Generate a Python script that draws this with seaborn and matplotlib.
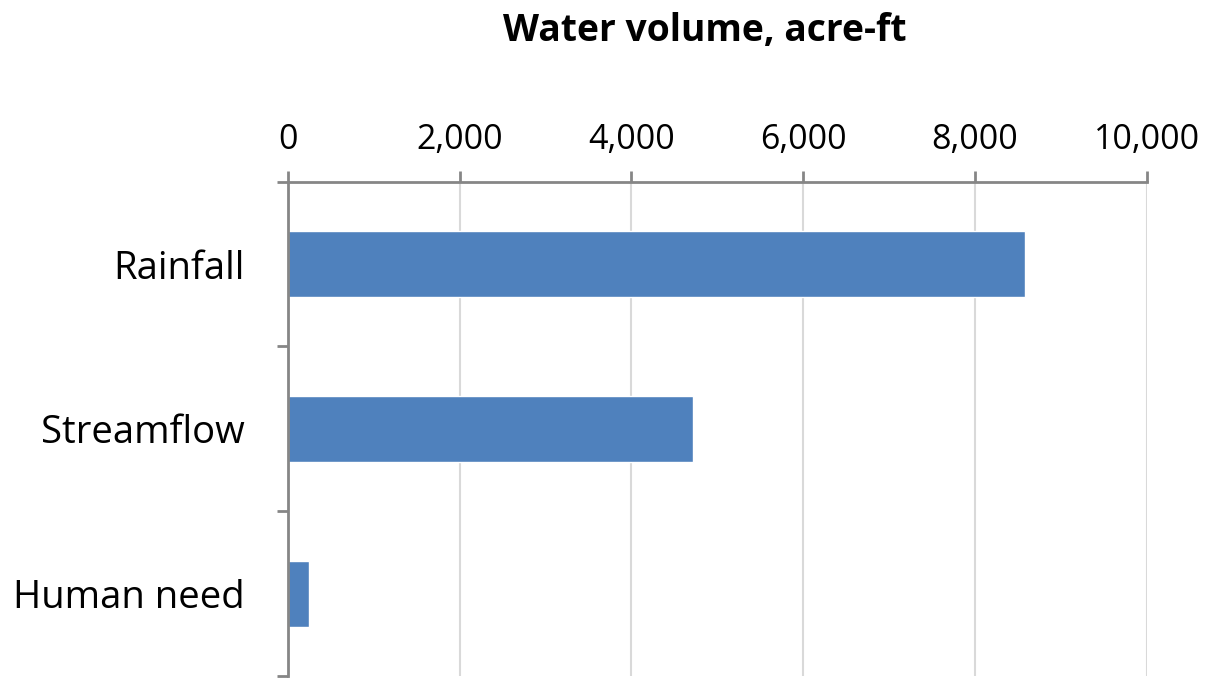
import matplotlib
matplotlib.use("Agg")
import matplotlib.pyplot as plt
import seaborn as sns
import pandas as pd
from matplotlib.ticker import FixedLocator, FuncFormatter

categories = ["Rainfall", "Streamflow", "Human need"]
values = [8580, 4720, 250]
x_ticks = [0, 2000, 4000, 6000, 8000, 10000]
title = "Water volume, acre-ft"

sns.set_theme(style="white")
plt.rcParams['font.family'] = ['Open Sans', 'DejaVu Sans']

df = pd.DataFrame({"category": categories, "value": values})

fig = plt.figure(figsize=(12.08, 6.79), dpi=100)
ax = fig.add_axes([287.7/1208, 1-676/679, (1146.7-287.7)/1208, (676-181.7)/679])

sns.barplot(data=df, x="value", y="category", orient="h", color="#4F81BD",
            saturation=1, width=0.4, ax=ax, zorder=3)

ax.set_xlim(0, 10000)
ax.set_ylim(2.5, -0.5)
ax.set_xticks(x_ticks)
ax.xaxis.set_major_formatter(FuncFormatter(lambda v, p: f"{int(v):,}"))
ax.xaxis.tick_top()
ax.xaxis.set_label_position("top")
ax.set_xlabel("")
ax.set_ylabel("")

for s in ["right", "bottom"]:
    ax.spines[s].set_visible(False)
for s in ["left", "top"]:
    ax.spines[s].set_color("#868686")
    ax.spines[s].set_linewidth(2)
    ax.spines[s].set_zorder(4)

ax.grid(axis="x", color="#D9D9D9", linewidth=1.5, zorder=0)
ax.grid(axis="y", visible=False)

ax.tick_params(axis="x", which="major", top=True, bottom=False, direction="out",
               length=8, width=2, color="#868686", labelsize=24.5, pad=10,
               labelcolor="black")
ax.yaxis.set_minor_locator(FixedLocator([-0.5, 0.5, 1.5, 2.5]))
ax.tick_params(axis="y", which="major", left=False, length=0, labelsize=27.5,
               pad=31, labelcolor="black")
ax.tick_params(axis="y", which="minor", left=True, direction="out", length=8,
               width=2, color="#868686")

fig.text(705/1208, 1-31/679, title, ha="center", va="center",
         fontsize=26.8, fontweight="bold", color="black")

fig.savefig("out.png", dpi=100, facecolor="white")
